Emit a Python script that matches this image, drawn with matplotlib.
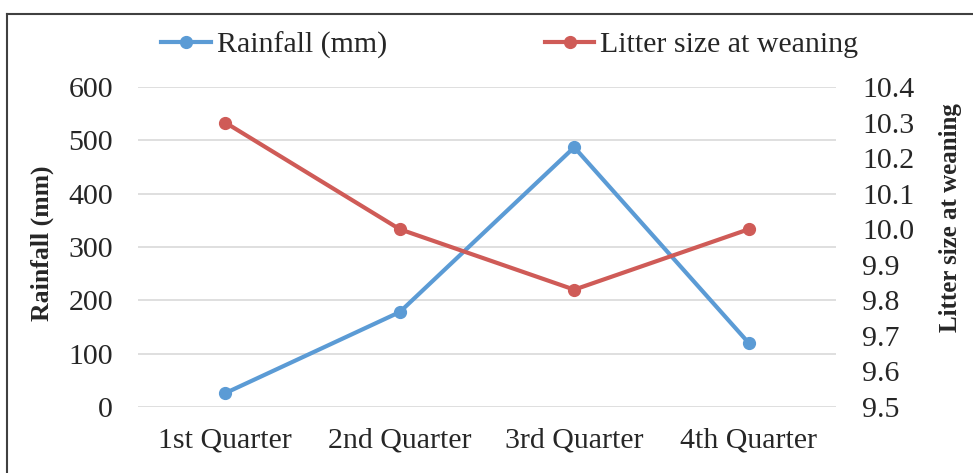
import matplotlib
matplotlib.use("Agg")
import matplotlib.pyplot as plt
from matplotlib.lines import Line2D

plt.rcParams["font.family"] = ["Liberation Serif", "DejaVu Serif"]

quarters = ["1st Quarter", "2nd Quarter", "3rd Quarter", "4th Quarter"]
rainfall_mm = [26, 178, 487, 120]
litter_size = [10.3, 10.0, 9.83, 10.0]

left_ticks = [0, 100, 200, 300, 400, 500, 600]
right_ticks = [9.5, 9.6, 9.7, 9.8, 9.9, 10.0, 10.1, 10.2, 10.3, 10.4]

blue = "#5B9BD5"
red = "#CF5B57"
text_col = "#262626"
grid_col = "#D9D9D9"
fs = 21.5

W, H = 973, 473
fig = plt.figure(figsize=(W / 100, H / 100), dpi=100)
ax = fig.add_axes([138 / W, 1 - 407 / H, (836 - 138) / W, (407 - 87) / H])
ax2 = ax.twinx()

x = range(len(quarters))
ax.plot(x, rainfall_mm, color=blue, lw=3, marker="o", ms=8.5, zorder=3,
        label="Rainfall (mm)")
ax2.plot(x, litter_size, color=red, lw=3, marker="o", ms=8.5, zorder=3,
         label="Litter size at weaning")

ax.set_xlim(-0.5, 3.5)
ax.set_ylim(0, 600)
ax2.set_ylim(9.5, 10.4)
ax.set_yticks(left_ticks)
ax2.set_yticks(right_ticks)
ax2.set_yticklabels([f"{v:.1f}" for v in right_ticks])
ax.set_xticks(list(x))
ax.set_xticklabels(quarters)

ax.grid(axis="y", color=grid_col, lw=1.2)
ax.set_axisbelow(True)
for a in (ax, ax2):
    for s in a.spines.values():
        s.set_visible(False)
    a.tick_params(length=0, labelsize=fs, colors=text_col)
ax.tick_params(axis="y", pad=18)
ax.tick_params(axis="x", pad=15)
ax2.tick_params(axis="y", pad=19)

fig.text(42 / W, 1 - 243 / H, "Rainfall (mm)", rotation=90, ha="center",
         va="center", fontsize=18.5, fontweight="bold", color=text_col)
fig.text(951 / W, 1 - 218 / H, "Litter size at weaning", rotation=90,
         ha="center", va="center", fontsize=18, fontweight="bold",
         color=text_col)

handles = [
    Line2D([], [], color=blue, lw=3, marker="o", ms=8.5),
    Line2D([], [], color=red, lw=3, marker="o", ms=8.5),
]
fig.legend(handles, ["Rainfall (mm)", "Litter size at weaning"],
           loc="center", bbox_to_anchor=(510 / W, 1 - 45 / H), ncol=2,
           frameon=False, fontsize=fs, handlelength=1.65, handletextpad=0.2,
           columnspacing=5.3, labelcolor=text_col)

# frame edges along the top and left of the figure
fig.add_artist(Line2D([7 / W, 1], [1 - 14 / H, 1 - 14 / H],
                      transform=fig.transFigure, color="#404040", lw=1.5))
fig.add_artist(Line2D([7 / W, 7 / W], [0, 1 - 14 / H],
                      transform=fig.transFigure, color="#404040", lw=1.5))

fig.savefig("out.png", dpi=100)
